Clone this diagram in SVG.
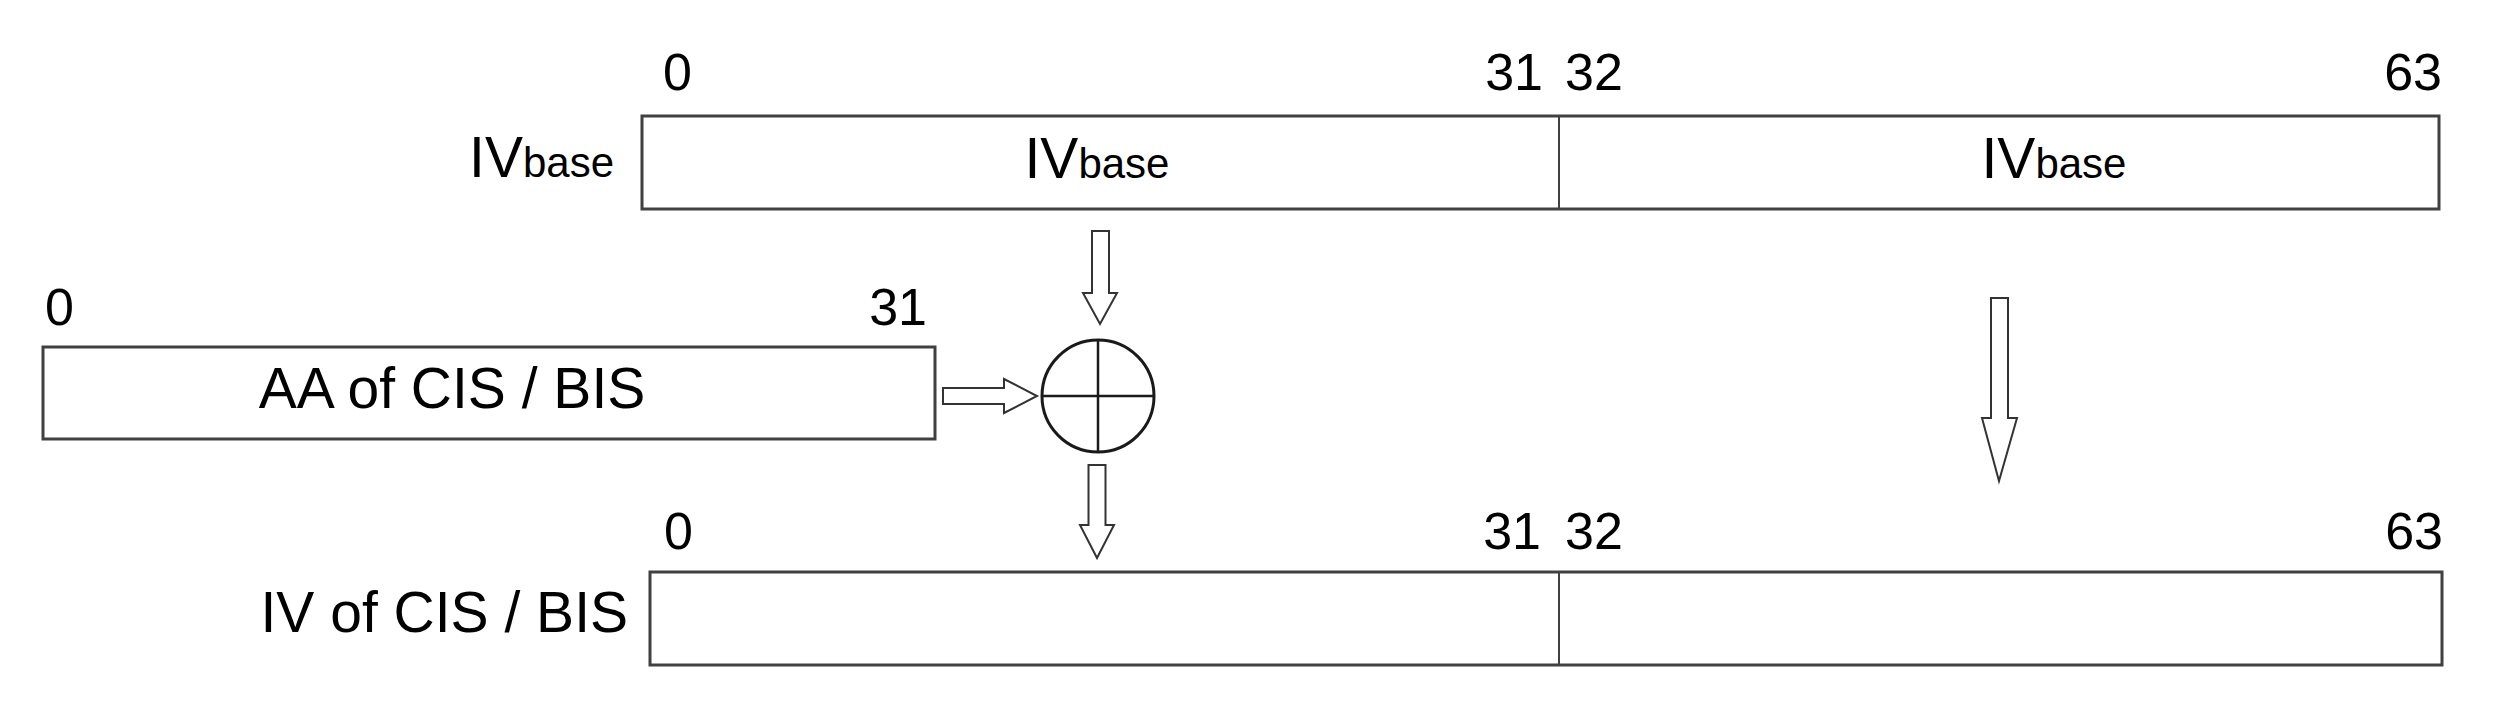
<svg xmlns="http://www.w3.org/2000/svg" width="2500" height="710" viewBox="0 0 2500 710">
<style>
  .box { fill: #ffffff; stroke: #404040; stroke-width: 3; }
  .div { stroke: #404040; stroke-width: 2; }
  .lbl { font-family: "Liberation Sans", Arial, sans-serif; font-size: 57px; fill: #000; }
  .num { font-family: "Liberation Sans", Arial, sans-serif; font-size: 52px; fill: #000; }
  .sub { font-size: 42px; }
  .arrow { fill: #ffffff; stroke: #333333; stroke-width: 2; stroke-linejoin: miter; }
  .xor { fill: #ffffff; stroke: #1a1a1a; stroke-width: 3; }
  .xorline { stroke: #1a1a1a; stroke-width: 2.5; }
</style>
<rect width="2500" height="710" fill="#ffffff"/>

<g id="iv-base">
  <rect class="box" x="642" y="116" width="1797" height="93"/>
  <line class="div" x1="1559" y1="116" x2="1559" y2="209"/>
  <text class="lbl" x="614" y="177" text-anchor="end">IV<tspan class="sub">base</tspan></text>
  <text class="lbl" x="1097" y="178" text-anchor="middle">IV<tspan class="sub">base</tspan></text>
  <text class="lbl" x="2054" y="178" text-anchor="middle">IV<tspan class="sub">base</tspan></text>
  <text class="num" x="663" y="90">0</text>
  <text class="num" x="1543" y="90" text-anchor="end">31</text>
  <text class="num" x="1565" y="90">32</text>
  <text class="num" x="2442" y="90" text-anchor="end">63</text>
</g>

<g id="aa">
  <rect class="box" x="43" y="347" width="892" height="92"/>
  <text class="lbl" x="452" y="408" text-anchor="middle">AA of CIS / BIS</text>
  <text class="num" x="45" y="325">0</text>
  <text class="num" x="927" y="325" text-anchor="end">31</text>
</g>

<g id="xor">
  <circle class="xor" cx="1098" cy="396" r="56"/>
  <line class="xorline" x1="1042" y1="396" x2="1154" y2="396"/>
  <line class="xorline" x1="1098" y1="340" x2="1098" y2="452"/>
</g>

<g id="iv-out">
  <rect class="box" x="650" y="572" width="1792" height="93"/>
  <line class="div" x1="1559" y1="572" x2="1559" y2="665"/>
  <text class="lbl" x="628" y="632" text-anchor="end">IV of CIS / BIS</text>
  <text class="num" x="664" y="549">0</text>
  <text class="num" x="1541" y="549" text-anchor="end">31</text>
  <text class="num" x="1565" y="549">32</text>
  <text class="num" x="2443" y="549" text-anchor="end">63</text>
</g>

<g id="connectors">
  <path class="arrow" d="M1092,231 L1109,231 L1109,293 L1117,293 L1100,324 L1083,293 L1092,293 Z"/>
  <path class="arrow" d="M943,388 L1004,388 L1004,379 L1037,396 L1004,413 L1004,404 L943,404 Z"/>
  <path class="arrow" d="M1088.5,465 L1105.5,465 L1105.5,525 L1114,525 L1097,558 L1080,525 L1088.5,525 Z"/>
  <path class="arrow" d="M1991,298 L2008,298 L2008,418 L2017,418 L1999,481 L1982,418 L1991,418 Z"/>
</g>
</svg>
